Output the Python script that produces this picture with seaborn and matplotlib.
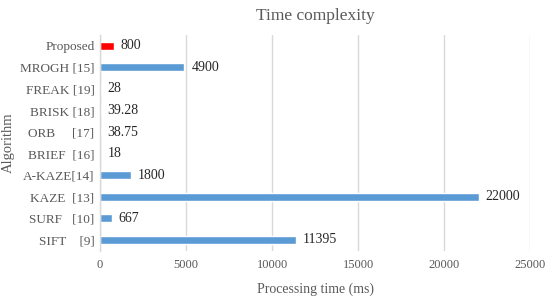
import pandas as pd
import matplotlib
matplotlib.use('Agg')
import matplotlib.pyplot as plt
import seaborn as sns

# --- data (top to bottom) ---
algorithms = ['Proposed', 'MROGH [15]', 'FREAK [19]', 'BRISK [18]', 'ORB     [17]',
              'BRIEF  [16]', 'A-KAZE[14]', 'KAZE  [13]', 'SURF   [10]', 'SIFT    [9]']
times = [800, 4900, 28, 39.28, 38.75, 18, 1800, 22000, 667, 11395]
time_labels = ['800', '4900', '28', '39.28', '38.75', '18', '1800', '22000', '667', '11395']
xticks = [0, 5000, 10000, 15000, 20000, 25000]

df = pd.DataFrame({'Algorithm': algorithms, 'Time': times,
                   'Kind': ['Proposed'] + ['Other'] * (len(algorithms) - 1)})

sns.set_style('white')
plt.rcParams['font.family'] = ['Liberation Serif', 'DejaVu Serif']
grey = '#595959'

fig = plt.figure(figsize=(5.5, 3.02), dpi=100)
ax = fig.add_axes([0.182, 0.170, 0.782, 0.714])

ax.grid(axis='x', color='#d9d9d9', linewidth=1)
ax.set_axisbelow(True)

sns.barplot(data=df, x='Time', y='Algorithm', hue='Kind',
            palette={'Proposed': '#FF0000', 'Other': '#5B9BD5'},
            saturation=1, width=0.38, dodge=False, legend=False, ax=ax)

for i, (v, lab) in enumerate(zip(times, time_labels)):
    ax.text(v + 400, i, lab, va='center', ha='left', fontsize=10, color='#262626')

ax.set_xlim(0, 25000)
ax.set_xticks(xticks)
ax.set_xticklabels([str(t) for t in xticks], fontsize=9, color=grey)
ax.tick_params(axis='y', labelsize=9.5, labelcolor=grey, length=0, pad=4)
ax.tick_params(axis='x', length=0, pad=6)
ax.set_xlabel('Processing time (ms)', fontsize=10, color=grey, labelpad=8)
ax.set_ylabel('Algorithm', fontsize=10.5, color=grey)
ax.set_title('Time complexity', fontsize=12.5, color=grey, pad=11)

for s in ['top', 'right', 'bottom']:
    ax.spines[s].set_visible(False)
ax.spines['left'].set_color('#d9d9d9')
ax.spines['left'].set_linewidth(1)

fig.savefig('out.png', dpi=100)
